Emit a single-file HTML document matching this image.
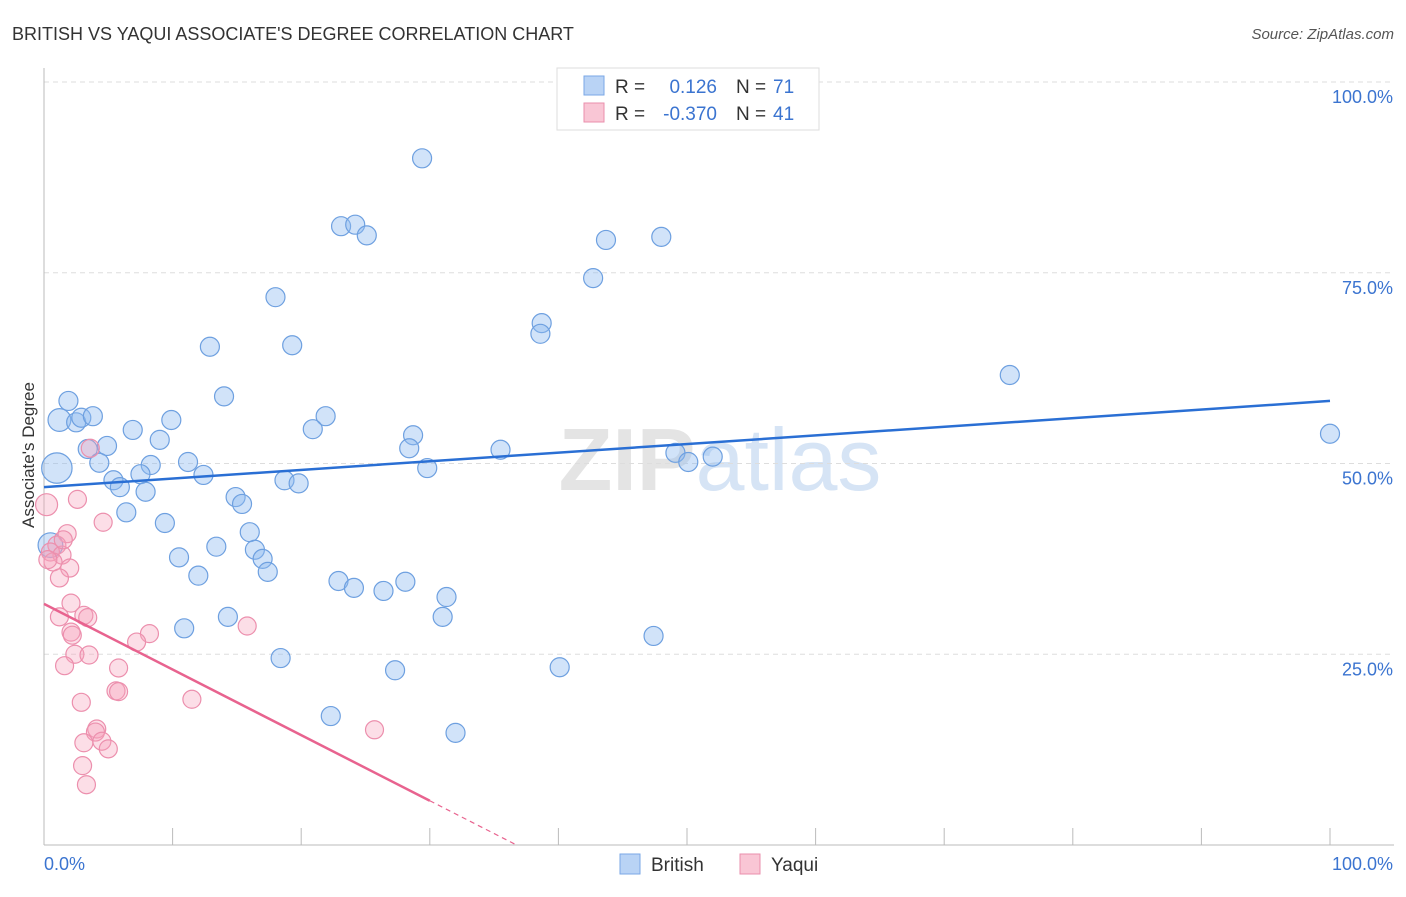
<!DOCTYPE html>
<html><head><meta charset="utf-8"><style>
body{margin:0;background:#fff;font-family:"Liberation Sans",sans-serif}
svg text{font-family:"Liberation Sans",sans-serif}
</style></head><body>
<svg id="c" width="1406" height="892" xmlns="http://www.w3.org/2000/svg">
<text x="12" y="40" font-size="18" fill="#333">BRITISH VS YAQUI ASSOCIATE'S DEGREE CORRELATION CHART</text>
<text x="1394" y="39" font-size="15" fill="#555" text-anchor="end" font-style="italic">Source: ZipAtlas.com</text>
<text x="720" y="490" font-size="88" text-anchor="middle" fill="#e4e4e4" font-weight="bold">ZIP<tspan fill="#d6e4f5" font-weight="normal">atlas</tspan></text>
<g id="grid"></g><g id="marks"></g>
<text transform="translate(34,455) rotate(-90)" font-size="17" fill="#333" text-anchor="middle">Associate's Degree</text>
<g>
<rect x="557" y="68" width="262" height="62" fill="#fff" stroke="#ddd"/>
<rect x="584" y="76" width="20" height="19" fill="#b9d3f5" stroke="#7aa7e6"/>
<rect x="584" y="103" width="20" height="19" fill="#f9c6d5" stroke="#ea8fac"/>
<text x="615" y="93" font-size="19" fill="#333">R =</text><text x="717" y="93" font-size="19" fill="#3b74d0" text-anchor="end">0.126</text>
<text x="736" y="93" font-size="19" fill="#333">N =</text><text x="773" y="93" font-size="19" fill="#3b74d0">71</text>
<text x="615" y="120" font-size="19" fill="#333">R =</text><text x="717" y="120" font-size="19" fill="#3b74d0" text-anchor="end">-0.370</text>
<text x="736" y="120" font-size="19" fill="#333">N =</text><text x="773" y="120" font-size="19" fill="#3b74d0">41</text>
</g>
<g>
<rect x="620" y="854" width="20" height="20" fill="#b9d3f5" stroke="#7aa7e6"/><text x="651" y="871" font-size="19" fill="#333">British</text>
<rect x="740" y="854" width="20" height="20" fill="#f9c6d5" stroke="#ea8fac"/><text x="771" y="871" font-size="19" fill="#333">Yaqui</text>
</g>
<text x="44" y="870" font-size="18" fill="#3b74d0">0.0%</text>
<text x="1393" y="870" font-size="18" fill="#3b74d0" text-anchor="end">100.0%</text>
</svg>
<script>
const yTicks=[100,75,50,25];
const yTickLabels=["100.0%","75.0%","50.0%","25.0%"];
const xTicks=[0,10,20,30,40,50,60,70,80,90,100];
const britishX=[29.4,23.1,24.2,25.1,43.7,48.0,42.7,18.0,38.7,38.6,12.9,19.3,75.1,14.0,1.9,1.2,2.5,2.9,3.8,9.9,21.9,6.9,20.9,3.4,4.9,9.0,28.7,28.4,35.5,1.0,4.3,8.3,11.2,29.8,49.1,50.1,52.0,100,5.4,5.9,7.5,7.9,12.4,18.7,19.8,14.9,15.4,6.4,9.4,16.0,13.4,16.4,17.0,17.4,10.5,12.0,22.9,24.1,26.4,28.1,31.3,31.0,14.3,10.9,47.4,18.4,27.3,40.1,22.3,32.0,0.5];
const britishY=[90.0,81.1,81.3,79.9,79.3,79.7,74.3,71.8,68.4,67.0,65.3,65.5,61.6,58.8,58.2,55.7,55.4,56.0,56.2,55.7,56.2,54.4,54.5,51.9,52.3,53.1,53.7,52.0,51.8,49.4,50.1,49.8,50.2,49.4,51.4,50.2,50.9,53.9,47.8,46.9,48.6,46.3,48.5,47.8,47.4,45.6,44.7,43.6,42.2,41.0,39.1,38.7,37.5,35.8,37.7,35.3,34.6,33.7,33.3,34.5,32.5,29.9,29.9,28.4,27.4,24.5,22.9,23.3,16.9,14.7,39.3];
const britishSize=[1,1,1,1,1,1,1,1,1,1,1,1,1,1,1,1.2,1,1,1,1,1,1,1,1,1,1,1,1,1,1.6,1,1,1,1,1,1,1,1,1,1,1,1,1,1,1,1,1,1,1,1,1,1,1,1,1,1,1,1,1,1,1,1,1,1,1,1,1,1,1,1,1.3];
const yaquiX=[0.2,2.6,3.6,4.6,1.8,1.0,0.5,1.4,0.7,2.0,1.2,2.1,1.2,3.1,3.4,2.1,2.2,8.2,7.2,15.8,2.4,3.5,1.6,5.8,5.6,5.8,2.9,11.5,4.1,4.0,3.1,4.5,5.0,25.7,3.0,3.3,0.3,1.5];
const yaquiY=[44.6,45.3,52.0,42.3,40.8,39.3,38.4,38.0,37.1,36.3,35.0,31.7,29.9,30.1,29.8,27.9,27.5,27.7,26.6,28.7,25.0,24.9,23.5,23.2,20.2,20.1,18.7,19.1,15.2,14.8,13.4,13.6,12.6,15.1,10.4,7.9,37.4,40.0];
const britishTrend=[46.9,58.2];
const yaquiTrend=[31.6,-0.86];
const X0=44,X1=1330,Y0=845,Y1=82;
const sx=v=>X0+(X1-X0)*v/100, sy=v=>Y0-(Y0-Y1)*v/100;
const NS="http://www.w3.org/2000/svg";
function mk(t,a,p){const e=document.createElementNS(NS,t);for(const k in a)e.setAttribute(k,a[k]);p.appendChild(e);return e;}
const g=document.getElementById('grid'),m=document.getElementById('marks');
yTicks.forEach((v,i)=>{
 const l=mk('line',{x1:X0,x2:1394,y1:sy(v),y2:sy(v),stroke:'#ddd','stroke-dasharray':'5,4'},g);
 
 
 const t=mk('text',{x:1393,y:sy(v)+21,'font-size':18,fill:'#3b74d0','text-anchor':'end'},g);t.textContent=yTickLabels[i];
 
 
});
const ax=mk('line',{x1:X0,x2:X0,y1:68,y2:Y0,stroke:'#bbb'},g);


const bx=mk('line',{x1:X0,x2:1394,y1:Y0,y2:Y0,stroke:'#bbb'},g);


xTicks.forEach(v=>{const t=mk('line',{x1:sx(v),x2:sx(v),y1:828,y2:Y0,stroke:'#bbb'},g);
 
 });
britishX.forEach((x,i)=>{const c=mk('circle',{cx:sx(x),cy:sy(britishY[i]),r:9.5*britishSize[i],fill:'rgba(140,185,240,0.4)',stroke:'#6ea0e0','stroke-width':1.2},m);
 
 });
yaquiX.forEach((x,i)=>{const c=mk('circle',{cx:sx(x),cy:sy(yaquiY[i]),r:i==0?11:9,fill:'rgba(245,160,185,0.35)',stroke:'#ec8fad','stroke-width':1.2},m);
 
 });
const bt=mk('line',{x1:sx(0),y1:sy(britishTrend[0]),x2:sx(100),y2:sy(britishTrend[1]),stroke:'#2a6fd4','stroke-width':2.5},m);


const yf=x=>yaquiTrend[0]+yaquiTrend[1]*x, xz=-yaquiTrend[0]/yaquiTrend[1];
const yt=mk('line',{x1:sx(0),y1:sy(yf(0)),x2:sx(30),y2:sy(yf(30)),stroke:'#e8638f','stroke-width':2.5},m);


const yd=mk('line',{x1:sx(30),y1:sy(yf(30)),x2:sx(xz),y2:sy(0),stroke:'#e8638f','stroke-width':1.2,'stroke-dasharray':'5,4'},m);


</script>
</body></html>
